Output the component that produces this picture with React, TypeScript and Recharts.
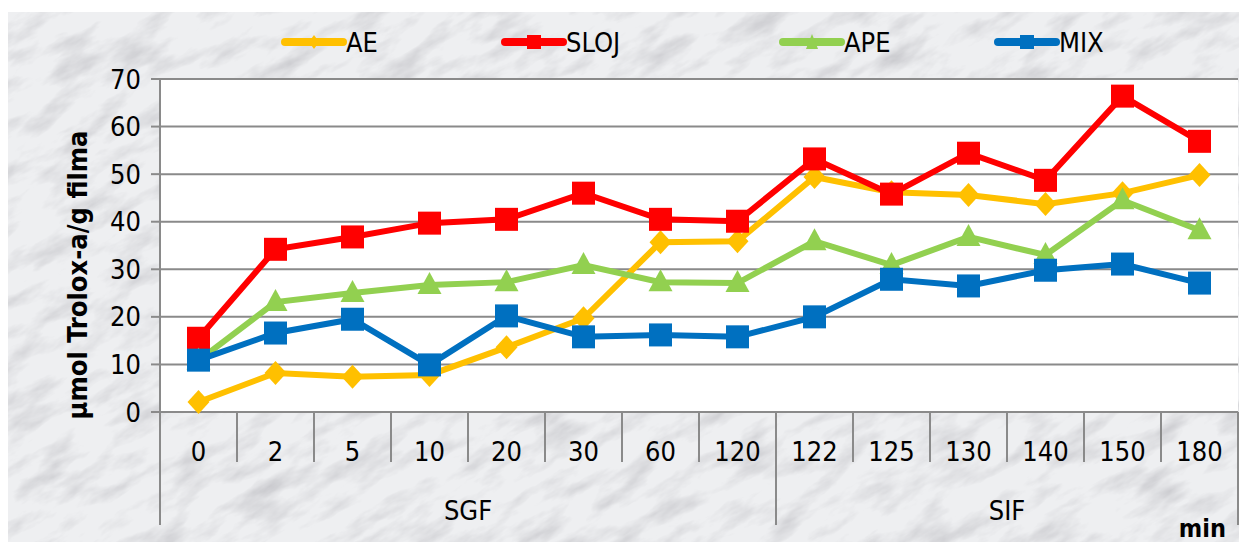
import { CartesianGrid, Line, LineChart, XAxis, YAxis } from "recharts";

const categories = ["0", "2", "5", "10", "20", "30", "60", "120", "122", "125", "130", "140", "150", "180"];
const groups = [
  { label: "SGF", from: 0, to: 7 },
  { label: "SIF", from: 8, to: 13 },
];
const aeValues = [2.1, 8.2, 7.4, 7.8, 13.6, 19.7, 35.7, 35.9, 49.4, 46.2, 45.6, 43.7, 46.0, 49.8];
const slojValues = [15.5, 34.2, 36.8, 39.7, 40.5, 46.0, 40.5, 40.1, 53.2, 45.8, 54.4, 48.7, 66.4, 56.9];
const apeValues = [10.8, 23.1, 25.0, 26.7, 27.3, 30.9, 27.3, 27.1, 35.9, 30.9, 36.8, 33.0, 44.5, 38.2];
const mixValues = [10.9, 16.6, 19.5, 9.9, 20.2, 15.8, 16.2, 15.8, 20.0, 27.9, 26.5, 29.8, 31.1, 27.1];
const yTicks = [0, 10, 20, 30, 40, 50, 60, 70];

const series = [
  { key: "AE", color: "#FFC000", shape: "diamond" },
  { key: "SLOJ", color: "#FF0000", shape: "square" },
  { key: "APE", color: "#92D050", shape: "triangle" },
  { key: "MIX", color: "#0070C0", shape: "square" },
];

const data = categories.map((t, i) => ({
  t,
  AE: aeValues[i],
  SLOJ: slojValues[i],
  APE: apeValues[i],
  MIX: mixValues[i],
}));

// layout (px, relative to the chart box)
const W = 1239;
const H = 530;
const PLOT_L = 152;
const PLOT_R = 1230;
const PLOT_T = 67;
const PLOT_B = 400;
const STEP = (PLOT_R - PLOT_L) / categories.length;
const FONT = "'DejaVu Sans Condensed', 'DejaVu Sans', sans-serif";
const AXIS = "#8a8a8a";

function marker(shape: string, cx: number, cy: number, color: string, key: string) {
  if (shape === "diamond") {
    return <path key={key} d={`M${cx} ${cy - 12}L${cx + 11} ${cy}L${cx} ${cy + 12}L${cx - 11} ${cy}Z`} fill={color} />;
  }
  if (shape === "triangle") {
    return <path key={key} d={`M${cx} ${cy - 13}L${cx + 12} ${cy + 9}L${cx - 12} ${cy + 9}Z`} fill={color} />;
  }
  return <rect key={key} x={cx - 11.5} y={cy - 11.5} width={23} height={23} fill={color} />;
}

function CatTick(props: any) {
  const { x, payload, index } = props;
  const left = x - STEP / 2;
  const starts = groups.map((g) => g.from);
  const group = groups.find((g) => g.from === index);
  return (
    <g>
      <line x1={left} x2={left} y1={PLOT_B} y2={starts.includes(index) ? 513 : 450} stroke={AXIS} strokeWidth={2} />
      {index === categories.length - 1 && (
        <line x1={x + STEP / 2} x2={x + STEP / 2} y1={PLOT_B} y2={513} stroke={AXIS} strokeWidth={2} />
      )}
      <text x={x} y={449} textAnchor="middle" fontSize={27} fontFamily={FONT} fill="#000">
        {payload.value}
      </text>
      {group && (
        <text x={x + ((group.to - group.from) / 2) * STEP} y={508} textAnchor="middle" fontSize={27} fontFamily={FONT} fill="#000">
          {group.label}
        </text>
      )}
    </g>
  );
}

const legendPos = [277, 497, 775, 990];

function LegendRow() {
  return (
    <g>
      {series.map((s, i) => {
        const x0 = legendPos[i];
        return (
          <g key={s.key}>
            <line x1={x0} x2={x0 + 58} y1={30} y2={30} stroke={s.color} strokeWidth={8} strokeLinecap="round" />
            {s.shape === "diamond" && <path d={`M${x0 + 29} 23L${x0 + 34} 30L${x0 + 29} 37L${x0 + 24} 30Z`} fill={s.color} />}
            {s.shape === "square" && <rect x={x0 + 22} y={23} width={14} height={14} fill={s.color} />}
            {s.shape === "triangle" && <path d={`M${x0 + 29} 22L${x0 + 35} 37L${x0 + 23} 37Z`} fill={s.color} />}
            <text x={x0 + 61} y={40} fontSize={27} fontFamily={FONT} fill="#000">
              {s.key}
            </text>
          </g>
        );
      })}
    </g>
  );
}

function Marble() {
  return (
    <svg width={W} height={H} style={{ position: "absolute", left: 0, top: 0 }}>
      <defs>
        <filter id="marble" x="0" y="0" width="100%" height="100%">
          <feTurbulence type="fractalNoise" baseFrequency="0.018 0.05" numOctaves={5} seed={7} />
          <feColorMatrix
            type="matrix"
            values="0 0 0 0 0.5  0 0 0 0 0.5  0 0 0 0 0.53  1.5 0 0 0 -0.68"
          />
        </filter>
      </defs>
      <rect width={W} height={H} fill="#eeeff1" />
      <g transform={`rotate(-30 ${W / 2} ${H / 2})`}>
        <rect x={-300} y={-500} width={W + 600} height={H + 1000} filter="url(#marble)" />
      </g>
    </svg>
  );
}

export default function App() {
  return (
    <div style={{ position: "relative", width: W, height: H, marginTop: 4, overflow: "hidden" }}>
      <Marble />
      <div style={{ position: "absolute", left: 0, top: 0 }}>
        <LineChart
          width={W}
          height={H}
          data={data}
          margin={{ top: PLOT_T, right: W - PLOT_R, left: 0, bottom: 0 }}
        >
          <CartesianGrid vertical={false} stroke={AXIS} strokeWidth={2} fill="#fff" />
          <XAxis
            dataKey="t"
            interval={0}
            height={H - PLOT_B}
            padding={{ left: STEP / 2, right: STEP / 2 }}
            axisLine={{ stroke: AXIS, strokeWidth: 2 }}
            tickLine={false}
            tick={<CatTick />}
          />
          <YAxis
            domain={[0, 70]}
            ticks={yTicks}
            width={PLOT_L}
            axisLine={{ stroke: AXIS, strokeWidth: 2 }}
            tickLine={{ stroke: AXIS, strokeWidth: 2 }}
            tickSize={9}
            tickMargin={10}
            tick={{ fontSize: 27, fontFamily: FONT, fill: "#000" }}
          />
          {series.map((s) => (
            <Line
              key={s.key}
              dataKey={s.key}
              stroke={s.color}
              strokeWidth={6}
              isAnimationActive={false}
              dot={(p: any) => marker(s.shape, p.cx, p.cy, s.color, `${s.key}-${p.index}`)}
              activeDot={false}
            />
          ))}
        </LineChart>
      </div>
      <svg width={W} height={H} style={{ position: "absolute", left: 0, top: 0, pointerEvents: "none" }}>
        <LegendRow />
        <line x1={PLOT_L} x2={PLOT_L} y1={PLOT_B} y2={513} stroke={AXIS} strokeWidth={2} />
        <text
          x={79}
          y={263}
          transform="rotate(-90 79 263)"
          textAnchor="middle"
          fontSize={27}
          fontWeight="bold"
          fontFamily={FONT}
          fill="#000"
        >
          µmol Trolox-a/g filma
        </text>
        <text x={1218} y={525} textAnchor="end" fontSize={25} fontWeight="bold" fontFamily={FONT} fill="#000">
          min
        </text>
      </svg>
    </div>
  );
}
